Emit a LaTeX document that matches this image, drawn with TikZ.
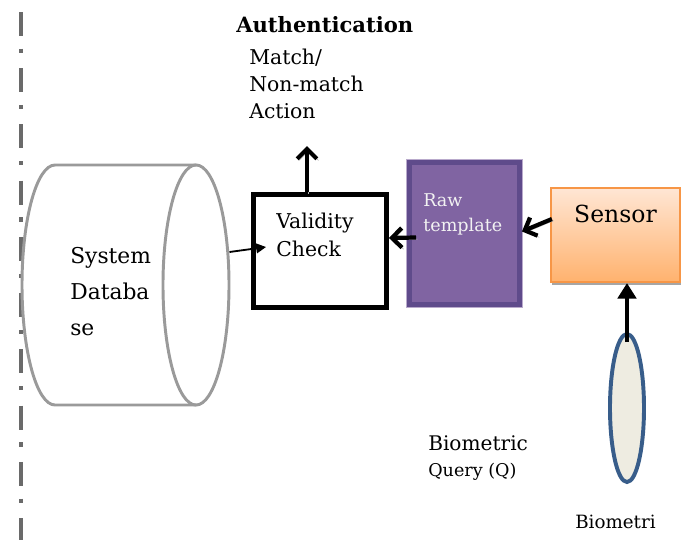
\documentclass[tikz,border=0pt]{standalone}
\usepackage{fontspec}
\setmainfont{DejaVu Serif}
\usetikzlibrary{positioning,arrows.meta,shapes.geometric,calc}
\definecolor{gray1}{HTML}{9A9A9A}
\definecolor{gray2}{HTML}{6A6A6A}
\definecolor{purple1}{HTML}{8064A2}
\definecolor{purple2}{HTML}{5F4B8B}
\definecolor{orange1}{HTML}{F79646}
\definecolor{orange2}{HTML}{FFE6D4}
\definecolor{orange3}{HTML}{FFB26E}
\definecolor{blue1}{HTML}{385D8A}
\definecolor{cream1}{HTML}{EEECE1}

\begin{document}
\begin{tikzpicture}[
    x=0.025cm, y=-0.025cm,
    txt/.style={inner sep=0pt, align=left, anchor=north west},
    dbline/.style={draw=gray1, line width=2.1pt},
    fat/.style={line width=3pt, -{Straight Barb[length=7pt, width=14pt]},
                preaction={draw=black!30, transform canvas={xshift=1.2pt, yshift=-1.2pt}}},
    thin/.style={line width=1.3pt, -{Triangle[length=7pt, width=7pt]}},
    lift/.style={line width=3.5pt, -{Triangle[length=11pt, width=13pt]}},
]
\useasboundingbox (0,0) rectangle (686,540);

% dash-dot rail on the left
\draw[gray2, line width=3pt, dash pattern=on 17pt off 9pt on 3pt off 11pt]
    (21,12) -- (21,540);

% database: body, then the open end as a node
\draw[dbline] (196,405) -- (55,405)
    arc[start angle=90, end angle=270, x radius=33, y radius=120] -- (196,165);
\node[ellipse, dbline, inner sep=0pt, minimum width=1.65cm, minimum height=6cm]
    (db) at (196,285) {};
\node[txt, font=\fontsize{15.5}{25.5}\selectfont] (dblbl) at (70,247)
    {System\\Databa\\se};

% validity check
\node[draw, line width=3.5pt, minimum width=3.325cm, minimum height=2.825cm]
    (check) at (320,251) {};
\node[txt, font=\fontsize{14.5}{20}\selectfont] (checklbl) at (276,213)
    {Validity\\Check};

% raw template
\node[draw=purple2, fill=purple1, line width=3.5pt,
      preaction={draw=purple1!55, line width=5pt},
      minimum width=2.75cm, minimum height=3.55cm]
    (raw) at (464.5,233.5) {};
\node[txt, text=white!95!black, font=\fontsize{12.5}{18}\selectfont] (rawlbl) at (423,193)
    {Raw\\template};

% sensor
\node[draw=orange1, line width=1.5pt, top color=orange2, bottom color=orange3,
      preaction={fill=black!35, transform canvas={xshift=0.6pt, yshift=-2.2pt}},
      minimum width=3.225cm, minimum height=2.35cm]
    (sensor) at (615.5,235) {};
\node[inner sep=0pt, anchor=north, font=\fontsize{16.7}{20}\selectfont] (sensorlbl)
    at (615.5,205) {Sensor};

% biometric sample
\node[ellipse, draw=blue1, fill=cream1, line width=2.8pt, inner sep=0pt,
      minimum width=0.85cm, minimum height=3.7cm]
    (bio) at (627,408) {};

% labels
\node[txt, font=\bfseries\fontsize{15}{18}\selectfont] (auth) at (236,16) {Authentication};
\node[txt, font=\fontsize{14.5}{19}\selectfont] (action) at (249,49)
    {Match/\\Non-match\\Action};
\node[txt, font=\fontsize{14.3}{19}\selectfont] (query) at (428,435)
    {Biometric\\{\fontsize{12.5}{19}\selectfont Query (Q)}};
\begin{scope}
  \clip (0,0) rectangle (686,529);
  \node[txt, font=\fontsize{13}{16}\selectfont] (biolbl) at (575,515) {Biometri};
\end{scope}

% connectors
\coordinate (act) at (307,146);
\draw[thin] ($(db.east)+(-1,-33)$) -- ($(check.west)+(15,-4)$);
\draw[fat] ($(check.north)+(-13,0)$) -- (act);
\draw[fat] ($(raw.west)+(9,4)$) -- ($(check.east)+(0,-13)$);
\draw[fat] ($(sensor.west)+(2,-16)$) -- ($(raw.east)+(0,-2)$);
\draw[lift] ($(bio.north)+(0,10)$) -- (bio.north |- sensor.south);
\end{tikzpicture}
\end{document}
